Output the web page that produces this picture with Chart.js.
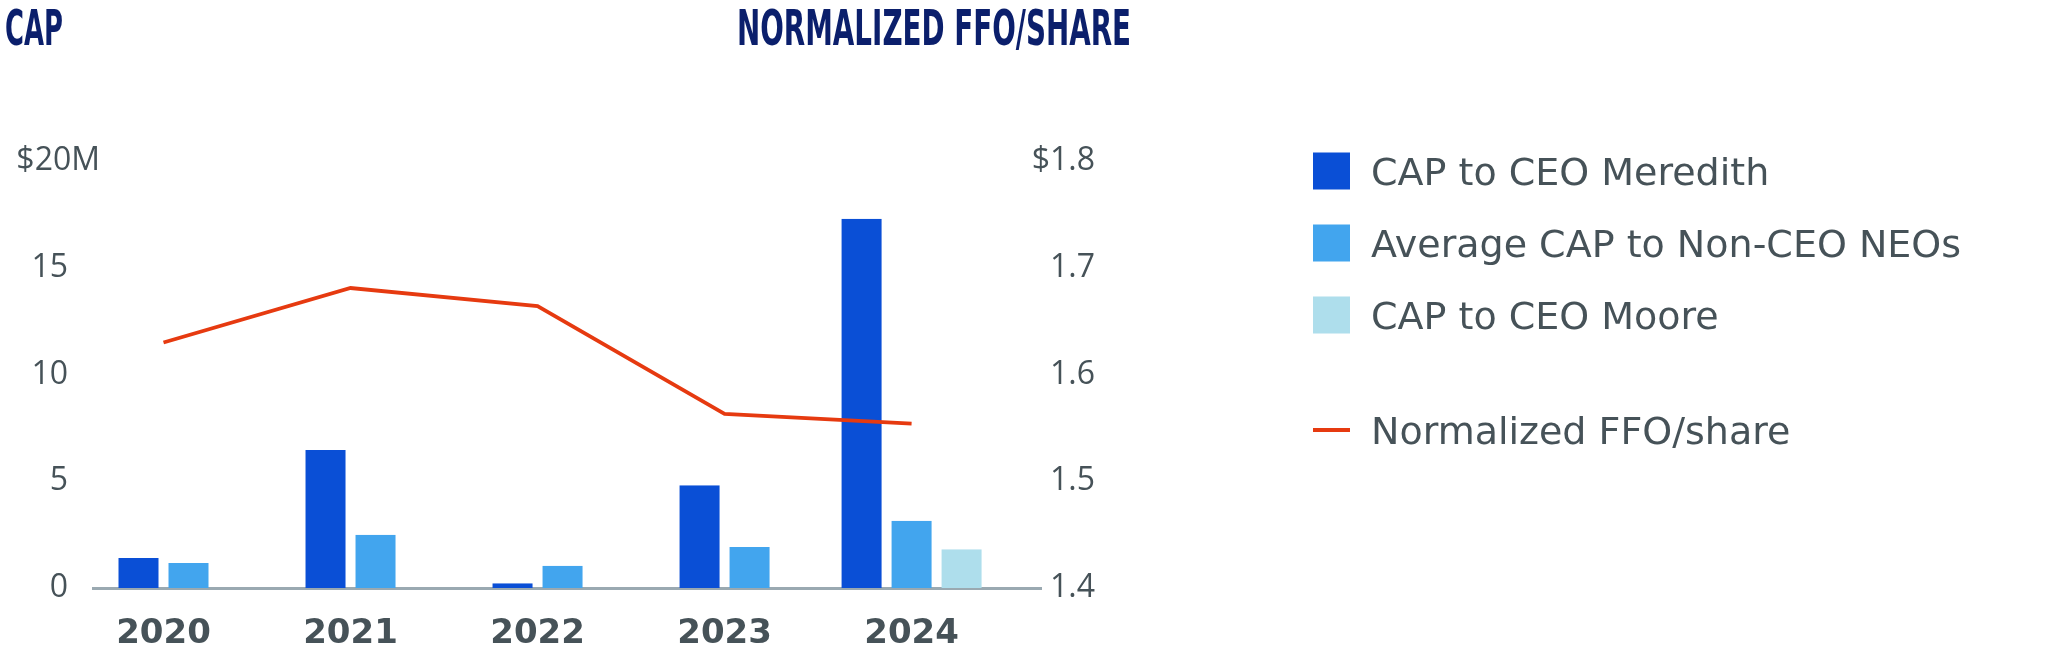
<!DOCTYPE html>
<html>
<head>
<meta charset="utf-8">
<script src="https://cdn.jsdelivr.net/npm/chart.js@4.4.1/dist/chart.umd.min.js"></script>
<style>
html,body{margin:0;padding:0;background:#ffffff;}
canvas{display:block;}
</style>
</head>
<body>
<canvas id="c" width="2062" height="654" style="width:2062px;height:654px"></canvas>
<script>
// ---- data ----
const years = [2020, 2021, 2022, 2023, 2024];
const capMeredith = [1.40, 6.46, 0.22, 4.81, 17.29];
const capNonCeoAvg = [1.17, 2.50, 1.04, 1.92, 3.15];
const capMoore = [null, null, null, null, 1.82];
const ffoPerShare = [1.630, 1.681, 1.664, 1.563, 1.554];
const seriesNames = ['CAP to CEO Meredith', 'Average CAP to Non-CEO NEOs', 'CAP to CEO Moore', 'Normalized FFO/share'];
const leftTitle = 'CAP';
const rightTitle = 'NORMALIZED FFO/SHARE';
const leftTickTop = '$20M';
const rightTickTop = '$1.8';

// ---- styles ----
const C_MEREDITH = '#0a4fd6';
const C_AVG = '#42a5ee';
const C_MOORE = '#aedeec';
const C_LINE = '#e63a10';
const C_TEXT = '#465258';
const C_TITLE = '#0b1f6c';
const C_AXIS = '#9aa9b1';
const TICK_FONT = {family: 'Open Sans', size: 32, weight: '400'};

// width of the widest left tick label (used to right-align mirrored labels)
const mctx = document.createElement('canvas').getContext('2d');
mctx.font = '400 32px "Open Sans"';
const leftWidest = Math.max(mctx.measureText(leftTickTop).width, mctx.measureText('15\u2002\u2002').width);

const barCommon = {
  type: 'bar',
  yAxisID: 'y',
  order: 1,
  barThickness: 50,
  borderWidth: {left: 5, right: 5, top: 0, bottom: 0},
  borderColor: 'rgba(0,0,0,0)',
  inflateAmount: 0,
  skipNull: true
};

const noPad = (s, w) => {
  s.width = w;
  s.paddingTop = 0;
  s.paddingBottom = 0;
};

const decor = {
  id: 'decor',
  afterDraw(chart) {
    const ctx = chart.ctx;
    const drawFitted = (text, left, baseline, targetW) => {
      ctx.save();
      ctx.font = 'bold 49px "Liberation Sans Narrow", "DejaVu Sans Condensed", sans-serif';
      const w = ctx.measureText(text).width;
      ctx.translate(left, baseline);
      ctx.scale(targetW / w, 1);
      ctx.textAlign = 'left';
      ctx.textBaseline = 'alphabetic';
      ctx.fillStyle = C_TITLE;
      ctx.fillText(text, 0, 0);
      ctx.restore();
    };
    drawFitted(leftTitle, 5, 45, 58);
    drawFitted(rightTitle, 737, 45, 394);

    const lx = 1313, box = 37, tx = 1371;
    let cy = 171;
    ctx.save();
    ctx.font = '38px "DejaVu Sans", sans-serif';
    ctx.textAlign = 'left';
    ctx.textBaseline = 'alphabetic';
    chart.data.datasets.forEach((ds) => {
      if (ds.type === 'line') {
        cy += 43;
        ctx.fillStyle = ds.borderColor;
        ctx.fillRect(lx, cy - 2, box, 4);
      } else {
        ctx.fillStyle = ds.backgroundColor;
        ctx.fillRect(lx, cy - box / 2, box, box);
      }
      ctx.fillStyle = C_TEXT;
      ctx.fillText(ds.label, tx, cy + 14);
      cy += 72;
    });
    ctx.restore();
  }
};

new Chart(document.getElementById('c'), {
  type: 'bar',
  data: {
    labels: years,
    datasets: [
      Object.assign({}, barCommon, {label: seriesNames[0], data: capMeredith, backgroundColor: C_MEREDITH}),
      Object.assign({}, barCommon, {label: seriesNames[1], data: capNonCeoAvg, backgroundColor: C_AVG}),
      Object.assign({}, barCommon, {label: seriesNames[2], data: capMoore, backgroundColor: C_MOORE}),
      {
        type: 'line', label: seriesNames[3], data: ffoPerShare, yAxisID: 'y1', order: 0,
        borderColor: C_LINE, backgroundColor: C_LINE, borderWidth: 3.8, pointRadius: 0, tension: 0, fill: false
      }
    ]
  },
  options: {
    responsive: false,
    animation: false,
    devicePixelRatio: 1,
    layout: {padding: {top: 161, left: 0, right: 967, bottom: 0}},
    plugins: {legend: {display: false}, tooltip: {enabled: false}},
    scales: {
      x: {
        type: 'linear',
        min: 2019.623,
        max: 2024.692,
        offset: false,
        grid: {display: false, drawTicks: false},
        border: {display: true, color: C_AXIS, width: 3},
        afterBuildTicks: (s) => { s.ticks = years.map(v => ({value: v})); },
        ticks: {
          callback: (v) => String(v),
          color: C_TEXT,
          font: {family: 'DejaVu Sans', weight: 'bold', size: 34},
          padding: 26,
          maxRotation: 0,
          autoSkip: false
        },
        afterFit: (s) => { s.height = 66; s.paddingLeft = 0; s.paddingRight = 0; }
      },
      y: {
        type: 'linear',
        position: 'left',
        min: 0,
        max: 20,
        grid: {display: false, drawTicks: false},
        border: {display: false},
        ticks: {
          stepSize: 5,
          mirror: true,
          crossAlign: 'far',
          callback: (v) => (v === 20 ? leftTickTop : String(v) + '\u2002\u2002'),
          color: C_TEXT,
          font: TICK_FONT,
          padding: 7 - leftWidest
        },
        afterFit: (s) => noPad(s, 93)
      },
      y1: {
        type: 'linear',
        position: 'right',
        min: 1.4,
        max: 1.8,
        grid: {display: false, drawTicks: false},
        border: {display: false},
        ticks: {
          stepSize: 0.1,
          mirror: true,
          crossAlign: 'near',
          callback: (v) => (Math.abs(v - 1.8) < 1e-6 ? rightTickTop : v.toFixed(1)),
          color: C_TEXT,
          font: TICK_FONT,
          padding: 54
        },
        afterFit: (s) => noPad(s, 54)
      }
    }
  },
  plugins: [decor]
});
</script>
</body>
</html>
